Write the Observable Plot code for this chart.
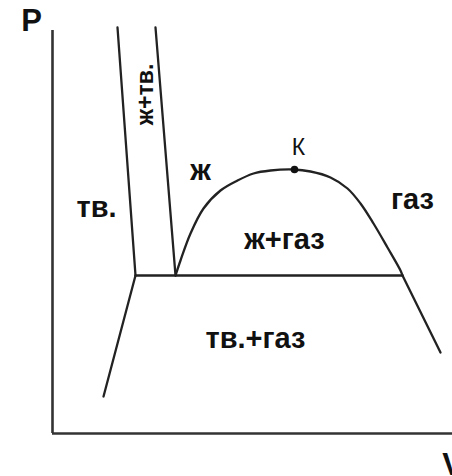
<!DOCTYPE html>
<html>
<head>
<meta charset="utf-8">
<script src="https://cdn.jsdelivr.net/npm/d3@7"></script>
<script src="https://cdn.jsdelivr.net/npm/@observablehq/plot@0.6"></script>
<style>
  html, body { margin: 0; padding: 0; background: #fff; }
  #chart { width: 452px; height: 476px; overflow: hidden; }
</style>
</head>
<body>
<div id="chart"></div>
<script>
// Phase diagram boundaries (V, P in arbitrary units)
const meltSolidV = [65, 83];
const meltSolidP = [406, 158];
const meltLiquidV = [103, 123];
const meltLiquidP = [406, 158];
const tripleV = [83, 350];
const tripleP = [158, 158];
const sublimSolidV = [83, 51];
const sublimSolidP = [158, 37];
const sublimGasV = [350, 388];
const sublimGasP = [158, 81];
const domeV = [123, 128, 138, 151, 168, 185, 201, 218, 241, 258, 278, 295, 308, 321, 335, 348, 350];
const domeP = [158, 173, 200, 225, 243, 253, 260, 263, 264, 262, 256, 245, 230, 210, 186, 163, 158];
const criticalV = [242];
const criticalP = [264];
const axisTopP = 403;
const axisRightV = 400;

const regionLabels = ["тв.", "ж", "газ", "ж+газ", "тв.+газ"];
const regionV = [44, 148, 360, 232, 203];
const regionP = [226, 263, 234, 194, 95];
const mixLabel = ["ж+тв."];
const mixV = [93];
const mixP = [339];
const criticalLabel = ["К"];
const criticalLabelV = [246];
const criticalLabelP = [286];
const axisNames = ["P", "V"];
const axisNameV = [-21, 400];
const axisNameP = [412, -32];

const toPts = (vs, ps) => vs.map((v, i) => ({V: v, P: ps[i]}));

const lineColor = "#222";
const segments = [
  toPts(meltSolidV, meltSolidP),
  toPts(meltLiquidV, meltLiquidP),
  toPts(tripleV, tripleP),
  toPts(sublimSolidV, sublimSolidP),
  toPts(sublimGasV, sublimGasP)
];

const chart = Plot.plot({
  width: 452,
  height: 476,
  marginTop: 0, marginBottom: 0, marginLeft: 0, marginRight: 0,
  x: {domain: [-52, 400], axis: null},
  y: {domain: [-43, 433], axis: null},
  style: {background: "#fff", fontFamily: "'Liberation Sans', Arial, sans-serif"},
  marks: [
    Plot.ruleX([0], {y1: 0, y2: axisTopP, stroke: "#333", strokeWidth: 2.6}),
    Plot.ruleY([0], {x1: 0, x2: axisRightV, stroke: "#333", strokeWidth: 2.6}),
    ...segments.map(seg => Plot.line(seg, {x: "V", y: "P", stroke: lineColor, strokeWidth: 2.3})),
    Plot.line(toPts(domeV, domeP), {x: "V", y: "P", stroke: lineColor, strokeWidth: 2.3, curve: "catmull-rom"}),
    Plot.dot(toPts(criticalV, criticalP), {x: "V", y: "P", r: 3.8, fill: "#111"}),
    Plot.text(regionLabels, {x: (d, i) => regionV[i], y: (d, i) => regionP[i], text: d => d,
      fontSize: 29, fontWeight: "bold", fill: "#111", textAnchor: "middle", lineAnchor: "middle"}),
    Plot.text(mixLabel, {x: (d, i) => mixV[i], y: (d, i) => mixP[i], text: d => d, rotate: -90,
      fontSize: 23, fontWeight: "bold", fill: "#111", textAnchor: "middle", lineAnchor: "middle"}),
    Plot.text(criticalLabel, {x: (d, i) => criticalLabelV[i], y: (d, i) => criticalLabelP[i], text: d => d,
      fontSize: 23, fill: "#111", textAnchor: "middle", lineAnchor: "middle"}),
    Plot.text(axisNames, {x: (d, i) => axisNameV[i], y: (d, i) => axisNameP[i], text: d => d,
      fontSize: 31, fontWeight: "bold", fill: "#111", textAnchor: "middle", lineAnchor: "middle"})
  ]
});
document.getElementById("chart").appendChild(chart);
</script>
</body>
</html>
